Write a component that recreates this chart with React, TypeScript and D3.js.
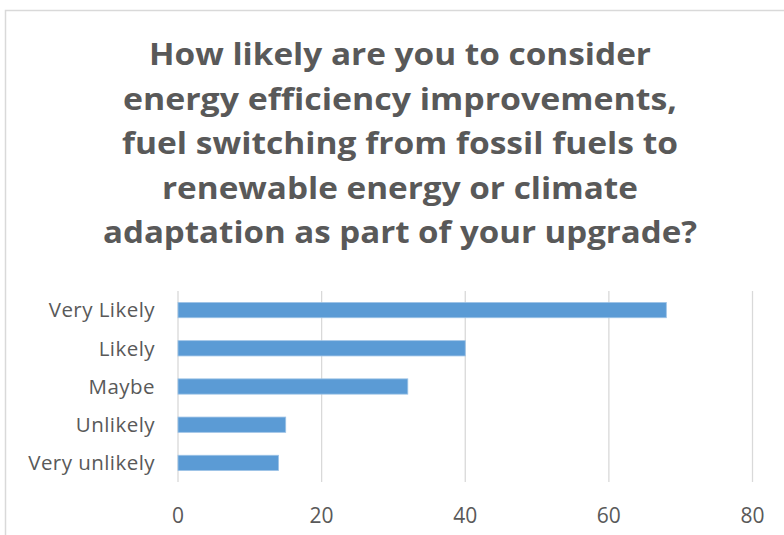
import React, { useEffect, useRef } from "react";
import * as d3 from "d3";

const categories = ["Very Likely", "Likely", "Maybe", "Unlikely", "Very unlikely"];
const values = [68, 40, 32, 15, 14];
const xTicks = [0, 20, 40, 60, 80];
const titleLines = [
  "How likely are you to consider",
  "energy efficiency improvements,",
  "fuel switching from fossil fuels to",
  "renewable energy or climate",
  "adaptation as part of your upgrade?",
];
// layout: measured rendered widths of title lines in the reference (px)
const titleWidths = [502, 554, 556, 476, 594];

const W = 784;
const H = 535;

export default function App() {
  const ref = useRef<SVGSVGElement>(null);
  useEffect(() => {
    const svg = d3.select(ref.current);
    svg.selectAll("*").remove();
    const font = "'Open Sans', sans-serif";
    const textColor = "#595959";

    svg.append("rect").attr("x", 0).attr("y", 0).attr("width", W).attr("height", H).attr("fill", "#fff");
    // chart border (cropped)
    svg.append("rect")
      .attr("x", 5.5).attr("y", 10.5).attr("width", W + 20).attr("height", H + 20)
      .attr("fill", "none").attr("stroke", "#d9d9d9").attr("stroke-width", 1.5);

    // title
    const title = svg.append("text")
      .attr("text-anchor", "middle")
      .attr("font-family", font)
      .attr("font-weight", 700)
      .attr("font-size", 30.5)
      .attr("fill", textColor);
    titleLines.forEach((t, i) => {
      title.append("tspan")
        .attr("x", 400)
        .attr("y", 65 + i * 44.6)
        .attr("textLength", titleWidths[i])
        .attr("lengthAdjust", "spacingAndGlyphs")
        .text(t);
    });

    const x = d3.scaleLinear().domain([0, 80]).range([178, 752.5]);
    const y = d3.scaleBand<string>().domain(categories).range([291, 482]).paddingInner(0.6).paddingOuter(0.3);

    // gridlines
    svg.append("g").selectAll("line").data(xTicks).join("line")
      .attr("x1", (d) => x(d)).attr("x2", (d) => x(d))
      .attr("y1", 291).attr("y2", 482)
      .attr("stroke", "#d9d9d9").attr("stroke-width", 1.3);

    // bars
    svg.append("g").selectAll("rect").data(categories).join("rect")
      .attr("x", x(0))
      .attr("y", (d) => y(d)!)
      .attr("width", (d, i) => x(values[i]) - x(0))
      .attr("height", y.bandwidth())
      .attr("fill", "#5b9bd5")
      .attr("stroke", "#9dc3e6").attr("stroke-width", 0.8);

    // category labels
    svg.append("g").selectAll("text").data(categories).join("text")
      .attr("x", 155)
      .attr("y", (d) => y(d)! + y.bandwidth() / 2)
      .attr("dy", "0.36em")
      .attr("text-anchor", "end")
      .attr("font-family", font)
      .attr("font-size", 20.5)
      .attr("letter-spacing", 0.45)
      .attr("fill", textColor)
      .text((d) => d);

    // tick labels
    svg.append("g").selectAll("text").data(xTicks).join("text")
      .attr("x", (d) => x(d))
      .attr("y", 515)
      .attr("dy", "0.36em")
      .attr("text-anchor", "middle")
      .attr("font-family", font)
      .attr("font-size", 21)
      .attr("fill", textColor)
      .text((d) => String(d));
  }, []);

  return (
    <svg
      ref={ref}
      width={W}
      height={H}
      style={{ position: "absolute", left: 0, top: 0, display: "block" }}
    />
  );
}
